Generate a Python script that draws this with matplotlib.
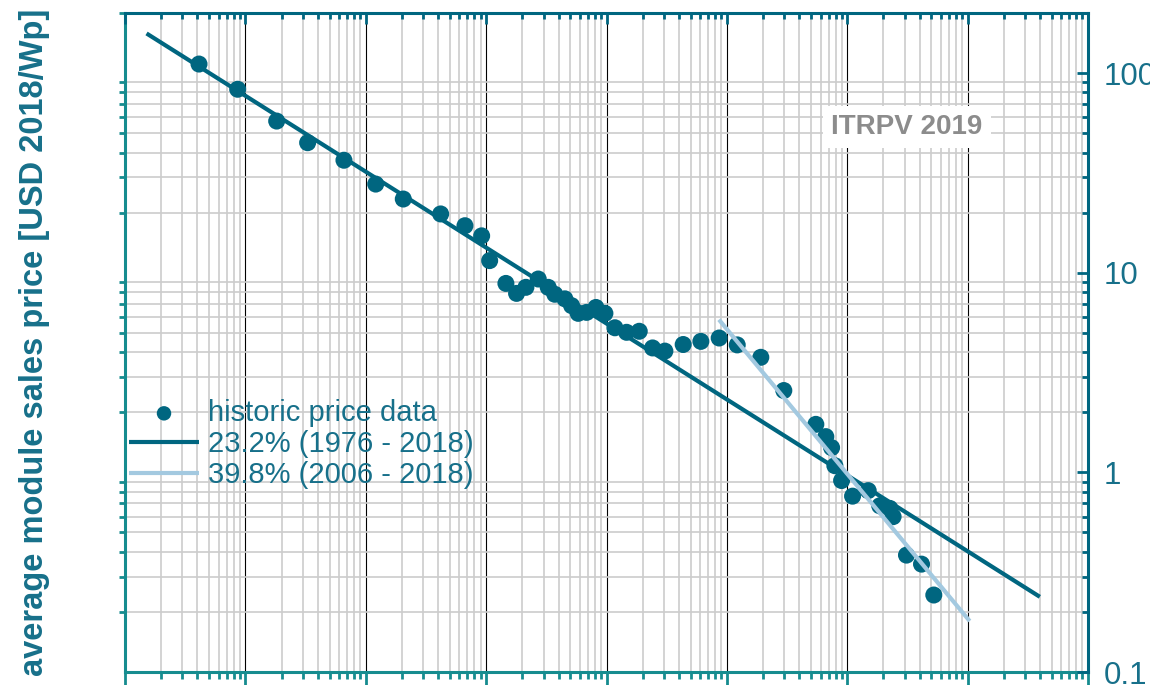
import numpy as np
import matplotlib
matplotlib.use("Agg")
import matplotlib.pyplot as plt
from matplotlib.ticker import LogLocator, NullFormatter, FuncFormatter

plt.rcParams["font.family"] = ["Liberation Sans", "DejaVu Sans"]

# historic price data (x: cumulative shipments, MW; y: USD 2018/Wp)
hist_x = [0.412, 0.863, 1.82, 3.29, 6.59, 12.1, 20.5, 41.9, 66.7, 91.8,
          107, 146, 179, 214, 271, 328, 372, 451, 513, 582,
          684, 817, 970, 1175, 1469, 1871, 2415, 3055, 4335, 6081,
          8630, 12190, 19140, 29720, 54830, 66370, 74130, 78890, 89740, 110700,
          149300, 186200, 225900, 240400, 310500, 414000, 523600]
hist_y = [111, 83, 57.5, 44.8, 36.6, 27.8, 23.4, 19.7, 17.2, 15.3,
          11.5, 8.84, 7.88, 8.45, 9.3, 8.45, 7.8, 7.4, 6.84, 6.26,
          6.33, 6.7, 6.26, 5.3, 5.03, 5.09, 4.2, 4.05, 4.37, 4.53,
          4.71, 4.35, 3.77, 2.57, 1.74, 1.51, 1.33, 1.08, 0.91, 0.76,
          0.81, 0.68, 0.66, 0.60, 0.385, 0.347, 0.243]

# learning curve fits (end points)
fit1_x = [0.151, 3.98e6]
fit1_y = [158, 0.238]
fit2_x = [8590, 1.04e6]
fit2_y = [5.82, 0.18]

labels = ["historic price data", "23.2% (1976 - 2018)", "39.8% (2006 - 2018)"]

dark = "#006680"
light = "#a3c9e0"
teal = "#168c8f"
txt = "#17708a"

xlim = (0.1, 1.0e7)
ylim = (0.1, 200)

fig = plt.figure(figsize=(11.5, 6.85), dpi=100)
ax = fig.add_axes([125/1150, 13/685, 963/1150, 659/685])
ax.set_xscale("log")
ax.set_yscale("log")
ax.set_xlim(xlim)
ax.set_ylim(ylim)

for a in (ax.xaxis, ax.yaxis):
    a.set_major_locator(LogLocator(base=10, numticks=100))
    a.set_minor_locator(LogLocator(base=10, subs=np.arange(2, 10), numticks=100))
    a.set_minor_formatter(NullFormatter())

ax.grid(which="minor", color="#cccccc", lw=1.2)
ax.grid(which="major", color="black", lw=0.8)
ax.set_axisbelow(True)

l1, = ax.plot(fit1_x, fit1_y, color=dark, lw=3, solid_capstyle="butt", zorder=3)
sc = ax.scatter(hist_x, hist_y, s=150, color=dark, edgecolors="none", zorder=4)
l2, = ax.plot(fit2_x, fit2_y, color=light, lw=3, solid_capstyle="butt", zorder=5)

ax.text(907, 685 - 127, "ITRPV 2019", transform=None, fontsize=20, fontweight="bold",
        color="#8c8c8c", ha="center", va="center", zorder=6,
        bbox=dict(facecolor="white", edgecolor="none", pad=6))

# spines / ticks
for s in ("top", "right"):
    ax.spines[s].set_visible(False)
for s in ("left", "bottom"):
    ax.spines[s].set_color(teal)
    ax.spines[s].set_linewidth(2.2)

fmt = FuncFormatter(lambda v, p: "{:g}".format(v))
ax.yaxis.set_major_formatter(fmt)
ax.tick_params(axis="y", which="major", direction="out", length=9, width=2,
               color=teal, labelsize=22.5, labelcolor=txt, pad=7)
ax.tick_params(axis="y", which="minor", direction="out", length=4, width=2, color=teal)
ax.tick_params(axis="x", which="major", direction="out", length=9, width=2,
               color=teal, labelbottom=False)
ax.tick_params(axis="x", which="minor", direction="out", length=5, width=2, color=teal)

ax2 = ax.twinx()
ax2.set_yscale("log")
ax2.set_ylim(ylim)
ax2.yaxis.set_major_locator(LogLocator(base=10, numticks=100))
ax2.yaxis.set_minor_locator(LogLocator(base=10, subs=np.arange(2, 10), numticks=100))
ax2.yaxis.set_minor_formatter(NullFormatter())
ax2.yaxis.set_major_formatter(fmt)
for s in ("left", "top", "bottom"):
    ax2.spines[s].set_visible(False)
ax2.spines["right"].set_color(dark)
ax2.spines["right"].set_linewidth(2.2)
ax2.tick_params(axis="y", which="major", direction="in", length=8, width=2,
                color=dark, labelsize=22.5, labelcolor=txt, pad=11)
ax2.tick_params(axis="y", which="minor", direction="in", length=4, width=2, color=dark)

ax3 = ax.twiny()
ax3.set_xscale("log")
ax3.set_xlim(xlim)
ax3.xaxis.set_major_locator(LogLocator(base=10, numticks=100))
ax3.xaxis.set_minor_locator(LogLocator(base=10, subs=np.arange(2, 10), numticks=100))
ax3.xaxis.set_minor_formatter(NullFormatter())
for s in ("left", "right", "bottom"):
    ax3.spines[s].set_visible(False)
ax3.spines["top"].set_color(dark)
ax3.spines["top"].set_linewidth(2.2)
ax3.tick_params(axis="x", which="major", direction="in", length=8, width=2,
                color=dark, labeltop=False)
ax3.tick_params(axis="x", which="minor", direction="in", length=4, width=2, color=dark)
ax3.set_yticks([])

ax.set_ylabel("average module sales price [USD 2018/Wp]", fontsize=23.5,
              fontweight="bold", color=txt)
ax.yaxis.set_label_coords(-0.078, 0.5)

fig.legend([sc, l1, l2], labels, loc="upper left",
           bbox_to_anchor=(129/1150, 1 - 399/685), frameon=False,
           fontsize=21, labelcolor=txt, handlelength=2.4, handletextpad=0.3,
           labelspacing=0.1, borderpad=0, borderaxespad=0, markerscale=0.85)

fig.savefig("out.png", dpi=100)
